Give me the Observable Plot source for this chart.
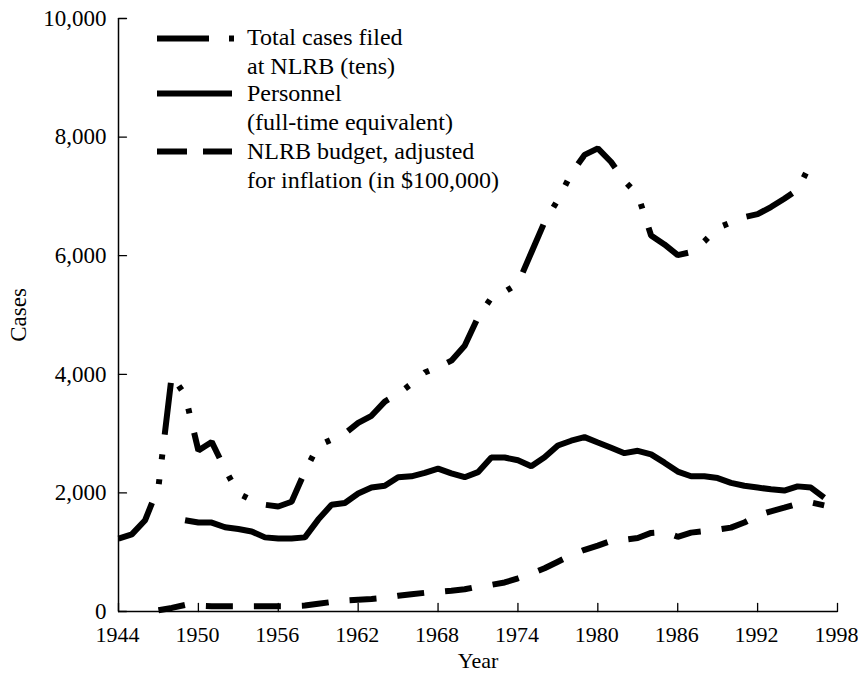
<!DOCTYPE html>
<html>
<head>
<meta charset="utf-8">
<script src="https://cdn.jsdelivr.net/npm/d3@7"></script>
<script src="https://cdn.jsdelivr.net/npm/@observablehq/plot@0.6"></script>
<style>
  body { margin: 0; background: #fff; }
  #chart { position: relative; width: 858px; height: 674px; }
  #legend { position: absolute; left: 0; top: 0; }
</style>
</head>
<body>
<div id="chart"></div>
<script>
// ---- data ----
const xTicks = [1944, 1950, 1956, 1962, 1968, 1974, 1980, 1986, 1992, 1998];
const yTicks = [0, 2000, 4000, 6000, 8000, 10000];

const seriesNames = [
  ["Total cases filed", "at NLRB (tens)"],
  ["Personnel", "(full-time equivalent)"],
  ["NLRB budget, adjusted", "for inflation (in $100,000)"]
];

// Total cases filed at NLRB (tens), 1944–1996
const casesYears = d3.range(1944, 1997);
const casesValues = [
  1230, 1300, 1540, 2100, 3980, 3650, 2715, 2860, 2400, 1990,
  1880, 1800, 1770, 1850, 2360, 2800, 2900, 3000, 3180, 3300,
  3540, 3670, 3840, 4030, 4120, 4230, 4480, 4960, 5290, 5390,
  5530, 6050, 6570, 6940, 7385, 7700, 7810, 7580, 7260, 7030,
  6340, 6190, 6010, 6060, 6240, 6470, 6560, 6650, 6700, 6820,
  6960, 7110, 7560
];

// Personnel (full-time equivalent), 1949–1997
const personnelYears = d3.range(1949, 1998);
const personnelValues = [
  1540, 1500, 1500, 1420, 1390, 1350, 1250, 1230, 1230, 1250,
  1550, 1800, 1830, 1990, 2091, 2120, 2265, 2280, 2337, 2410,
  2330, 2265, 2350, 2597, 2597, 2550, 2450, 2600, 2800, 2880,
  2940, 2850, 2760, 2670, 2710, 2650, 2510, 2360, 2280, 2280,
  2250, 2170, 2120, 2090, 2060, 2040, 2110, 2090, 1920
];

// NLRB budget adjusted for inflation (in $100,000), 1947–1997
const budgetYears = d3.range(1947, 1998);
const budgetValues = [
  20, 60, 110, 100, 90, 90, 90, 90, 90, 90,
  90, 100, 130, 160, 185, 200, 210, 230, 265, 290,
  315, 330, 350, 375, 420, 450, 490, 560, 640, 730,
  840, 950, 1040, 1110, 1190, 1210, 1240, 1325, 1340, 1260,
  1330, 1355, 1380, 1415, 1500, 1620, 1690, 1750, 1815, 1840, 1790
];

// ---- build tables ----
const cases = casesYears.map((year, i) => ({year, value: casesValues[i]}));
const personnel = personnelYears.map((year, i) => ({year, value: personnelValues[i]}));
const budget = budgetYears.map((year, i) => ({year, value: budgetValues[i]}));

const FONT = "'Liberation Serif', 'Times New Roman', serif";
const casesDash = "52,20,5,20,5,20";
const budgetDash = "27,21";
const lineStyle = {stroke: "black", strokeWidth: 6, strokeLinejoin: "miter", strokeLinecap: "butt", fill: "none"};

const tickShape = {draw(context, l) { context.moveTo(0, 0); context.lineTo(0, -l); }};

const chart = Plot.plot({
  width: 858,
  height: 674,
  marginLeft: 118,
  marginRight: 21,
  marginTop: 18,
  marginBottom: 63,
  x: {domain: [1944, 1998]},
  y: {domain: [0, 10000]},
  style: {fontFamily: FONT, fontSize: "22px", color: "black", background: "white", overflow: "visible"},
  marks: [
    Plot.ruleX([1944], {stroke: "black", strokeWidth: 1.5}),
    Plot.ruleY([0], {stroke: "black", strokeWidth: 1.5}),
    Plot.vector(xTicks, {x: d => d, y: () => 0, length: 8, rotate: 0, anchor: "start", shape: tickShape, stroke: "black", strokeWidth: 1.3}),
    Plot.vector(yTicks, {x: () => 1944, y: d => d, length: 8, rotate: 90, anchor: "start", shape: tickShape, stroke: "black", strokeWidth: 1.3}),
    Plot.axisX({ticks: xTicks, tickSize: 0, tickPadding: 15, dx: -1, tickFormat: d => String(d), label: null, fontSize: 22}),
    Plot.axisY({ticks: yTicks, tickSize: 0, tickPadding: 12, tickFormat: d3.format(","), label: null, fontSize: 23}),
    Plot.text(["Cases"], {text: d => d, frameAnchor: "left", textAnchor: "middle", lineAnchor: "middle", rotate: -90, dx: -100, fontSize: 23}),
    Plot.text(["Year"], {text: d => d, frameAnchor: "bottom", textAnchor: "middle", lineAnchor: "middle", dy: 49, fontSize: 22}),
    Plot.line(budget, {x: "year", y: "value", ...lineStyle, strokeDasharray: budgetDash}),
    Plot.line(personnel, {x: "year", y: "value", ...lineStyle}),
    Plot.line(cases, {x: "year", y: "value", ...lineStyle, strokeDasharray: casesDash})
  ]
});

const container = document.getElementById("chart");
container.appendChild(chart);

// ---- legend overlay ----
const legendDash = [casesDash, null, "30,16"];
const legendLineY = [38.5, 93.5, 151.5];
const legendBaselines = [[44.5, 73.5], [101, 130], [159, 188]];

const legend = d3.select(container).append("svg")
  .attr("id", "legend")
  .attr("width", 858)
  .attr("height", 674)
  .style("pointer-events", "none");

seriesNames.forEach((lines, i) => {
  legend.append("line")
    .attr("x1", 157).attr("x2", i === 0 ? 234 : 232)
    .attr("y1", legendLineY[i]).attr("y2", legendLineY[i])
    .attr("stroke", "black")
    .attr("stroke-width", 6)
    .attr("stroke-dasharray", legendDash[i]);
  lines.forEach((t, j) => {
    legend.append("text")
      .attr("x", 247)
      .attr("y", legendBaselines[i][j])
      .attr("font-family", FONT)
      .attr("font-size", 24)
      .attr("fill", "black")
      .text(t);
  });
});
</script>
</body>
</html>
